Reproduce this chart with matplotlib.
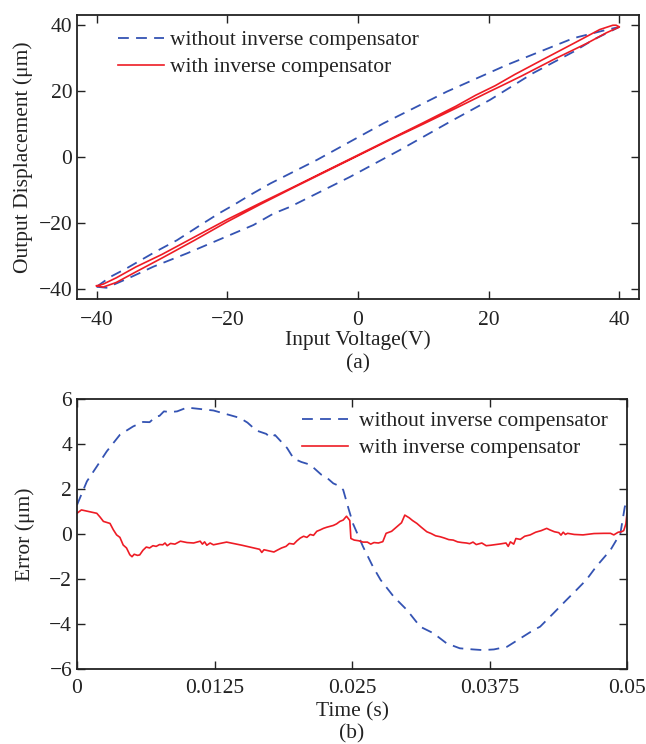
import matplotlib
matplotlib.use("Agg")
import matplotlib.pyplot as plt

plt.rcParams['font.family'] = ['Liberation Serif', 'DejaVu Serif']
plt.rcParams['mathtext.fontset'] = 'stix'

# ---------------- (a) hysteresis loops ----------------
# without inverse compensator: upper branch (x, y)
wo_up_x = [-40, -37.9, -35.4, -31.0, -27.7, -24.1, -21.3, -19.0, -16.5, -13.4, -6.3, 3.9, 13.6, 22.8, 33.0, 38.0, 39.6, 40.0]
wo_up_y = [-39.3, -36.3, -33.7, -28.7, -25.2, -20.6, -17.1, -14.5, -11.5, -8.0, -0.9, 10.2, 19.8, 27.9, 36.0, 38.5, 39.2, 39.4]
# without inverse compensator: lower branch
wo_lo_x = [-40, -38.5, -35.0, -31.3, -26.2, -21.1, -16.0, -12.9, -10.4, -1.2, 6.4, 14.1, 20.2, 26.8, 33.0, 36.0, 40.0]
wo_lo_y = [-39.3, -39.6, -36.6, -33.2, -29.2, -24.9, -20.6, -17.1, -15.1, -6.0, 2.1, 10.7, 17.3, 25.4, 31.9, 35.5, 39.4]
# with inverse compensator: closed loop (rising then falling)
w_x = [-40, -39.0, -37.0, -34.0, -30.0, -25.0, -20.0, -15.0, -10.0, -5.0, 0.0, 5.0, 10.0, 15.0, 20.0, 22.0, 25.0, 30.0, 35.0, 38.0, 40.0,
       39.5, 39.0, 37.0, 33.0, 28.0, 24.0, 21.0, 18.0, 15.0, 10.0, 5.0, 0.0, -5.0, -10.0, -15.0, -20.0, -25.0, -30.0, -34.0, -37.0, -39.0, -40.0]
w_y = [-39.0, -39.4, -38.0, -34.8, -30.6, -25.2, -19.6, -14.4, -9.4, -4.5, 0.4, 5.3, 10.0, 14.8, 19.7, 21.6, 24.5, 29.6, 34.4, 37.6, 39.4,
       39.9, 39.9, 38.6, 34.4, 29.2, 25.0, 21.6, 18.7, 15.4, 10.4, 5.5, 0.6, -4.3, -9.2, -14.0, -18.9, -24.2, -29.5, -33.3, -36.6, -38.5, -39.0]
a_ticks = [-40, -20, 0, 20, 40]

# ---------------- (b) error vs time ----------------
err_wo_t = [0, 0.0009, 0.0018, 0.0027, 0.0039, 0.0051, 0.0060, 0.0066, 0.0072, 0.0075, 0.0079, 0.0085, 0.0091, 0.0100,
            0.0124, 0.0148, 0.0155, 0.0163, 0.0172, 0.0176, 0.0180, 0.0191, 0.0197, 0.0204, 0.0212, 0.0222, 0.0226,
            0.0233, 0.0239, 0.0242, 0.0247, 0.0251, 0.0260, 0.0269, 0.0276, 0.0288, 0.0300, 0.0312, 0.0324, 0.0336,
            0.0348, 0.0360, 0.0369, 0.0379, 0.0391, 0.0403, 0.0415, 0.0421, 0.0433, 0.0445, 0.0454, 0.0463, 0.0472,
            0.0485, 0.0494, 0.0498, 0.0500]
err_wo = [1.29, 2.34, 3.0, 3.67, 4.41, 4.78, 4.98, 4.97, 5.23, 5.25, 5.45, 5.42, 5.45, 5.62,
          5.49, 5.16, 4.95, 4.60, 4.45, 4.28, 4.40, 3.82, 3.35, 3.20, 3.08, 2.64, 2.55,
          2.25, 2.12, 1.96, 1.10, 0.45, -0.56, -1.45, -2.04, -2.79, -3.38, -4.12, -4.41, -4.86,
          -5.08, -5.13, -5.16, -5.13, -5.01, -4.64, -4.27, -4.12, -3.53, -2.93, -2.49, -2.04, -1.45,
          -0.71, 0.03, 1.21, 1.40]

err_w_t = [0.0000, 0.0004, 0.0018, 0.0021, 0.0024, 0.0030, 0.0033, 0.0036, 0.0039, 0.0042, 0.0045, 0.0048, 0.0050,
           0.0052, 0.0055, 0.0057, 0.0060, 0.0063, 0.0066, 0.0069, 0.0072, 0.0075, 0.0078, 0.0080, 0.0082, 0.0085,
           0.0089, 0.0094, 0.0100, 0.0106, 0.0112, 0.0114, 0.0116, 0.0118, 0.0121, 0.0124, 0.0130, 0.0136, 0.0150,
           0.0166, 0.0168, 0.0170, 0.0179, 0.0182, 0.0186, 0.0190, 0.0193, 0.0197, 0.0200, 0.0203, 0.0206, 0.0209,
           0.0212, 0.0215, 0.0218, 0.0221, 0.0224, 0.0227, 0.0230, 0.0233, 0.0236, 0.0239, 0.0242, 0.0245, 0.0248,
           0.0249, 0.0252, 0.0256, 0.0260, 0.0264, 0.0267, 0.0270, 0.0274, 0.0278, 0.0281, 0.0286, 0.0291, 0.0295,
           0.0298, 0.0302, 0.0305, 0.0309, 0.0313, 0.0318, 0.0322, 0.0326, 0.0330, 0.0334, 0.0338, 0.0342, 0.0346,
           0.0350, 0.0354, 0.0357, 0.0360, 0.0363, 0.0368, 0.0372, 0.0376, 0.0385, 0.0390, 0.0392, 0.0394, 0.0397,
           0.0399, 0.0403, 0.0407, 0.0412, 0.0417, 0.0422, 0.0427, 0.0430, 0.0434, 0.0438, 0.0440, 0.0442, 0.0444,
           0.0446, 0.0452, 0.0460, 0.0470, 0.0479, 0.0485, 0.0488, 0.0492, 0.0495, 0.0497, 0.0499, 0.0500]
err_w = [0.92, 1.07, 0.92, 0.75, 0.56, 0.47, 0.19, -0.04, -0.15, -0.49, -0.62, -0.92, -1.01,
         -0.90, -0.95, -0.93, -0.72, -0.58, -0.62, -0.52, -0.55, -0.47, -0.48, -0.40, -0.52, -0.42,
         -0.45, -0.32, -0.38, -0.40, -0.32, -0.45, -0.35, -0.50, -0.40, -0.48, -0.42, -0.36, -0.50,
         -0.68, -0.82, -0.70, -0.80, -0.72, -0.62, -0.55, -0.42, -0.45, -0.30, -0.18, -0.10, -0.15,
         -0.02, -0.06, 0.12, 0.18, 0.25, 0.30, 0.34, 0.38, 0.45, 0.56, 0.62, 0.79, 0.60,
         -0.20, -0.27, -0.30, -0.36, -0.36, -0.45, -0.38, -0.40, -0.34, 0.03, 0.12, 0.33, 0.50,
         0.84, 0.72, 0.60, 0.47, 0.30, 0.10, 0.02, -0.08, -0.12, -0.18, -0.25, -0.27, -0.35,
         -0.38, -0.40, -0.43, -0.36, -0.47, -0.40, -0.52, -0.50, -0.44, -0.40, -0.55, -0.35, -0.45,
         -0.20, -0.24, -0.10, -0.04, 0.08, 0.15, 0.25, 0.18, 0.10, 0.06, -0.05, 0.08, -0.02,
         0.03, -0.02, -0.04, 0.02, 0.03, 0.03, -0.04, 0.08, 0.10, 0.15, 0.45, 0.92]
b_xticks = [0, 0.0125, 0.025, 0.0375, 0.05]
b_xlabels = ['0', '0.0125', '0.025', '0.0375', '0.05']
b_yticks = [-6, -4, -2, 0, 2, 4, 6]

label_wo = 'without inverse compensator'
label_w = 'with inverse compensator'

BLUE = '#3453b3'
RED = '#ee1c25'
TXT = '#222222'
FS = 15.5

fig = plt.figure(figsize=(6.46, 7.44), dpi=100)
ax1 = fig.add_axes([77/646, 1-299/744, 562/646, 284/744])
ax2 = fig.add_axes([77/646, 1-669/744, 550/646, 270/744])

for ax in (ax1, ax2):
    ax.tick_params(direction='in', top=True, right=True, length=6, width=1.0,
                   labelsize=FS, labelcolor=TXT, pad=3.5, color='#222222')
    for s in ax.spines.values():
        s.set_linewidth(1.3)
        s.set_color('#222222')
ax1.tick_params(axis='x', pad=8.5)
ax2.tick_params(axis='x', pad=7.1)

# (a)
ax1.plot(wo_up_x, wo_up_y, color=BLUE, lw=1.3, dashes=(6, 4), label=label_wo)
ax1.plot(wo_lo_x, wo_lo_y, color=BLUE, lw=1.3, dashes=(6, 4))
ax1.plot(w_x, w_y, color=RED, lw=1.2, label=label_w)
ax1.set_xlim(-43, 43)
ax1.set_ylim(-43, 43)
ax1.set_xticks(a_ticks)
ax1.set_yticks(a_ticks)
ax1.set_xlabel('Input Voltage(V)', fontsize=FS, color=TXT, labelpad=0.3)
ax1.set_ylabel('Output Displacement (μm)', fontsize=FS, color=TXT)
ax1.yaxis.set_label_coords((23-77)/562, 0.5)
ax1.yaxis.label.set_va('center')
leg1 = ax1.legend(loc='upper left', bbox_to_anchor=(41/562, 1-15/284), frameon=False, fontsize=FS,
                  borderpad=0, borderaxespad=0, handlelength=2.15, handletextpad=0.25, labelspacing=0.34)
for t in leg1.get_texts():
    t.set_color(TXT)

# (b)
ax2.plot(err_wo_t, err_wo, color=BLUE, lw=1.3, dashes=(6, 4), label=label_wo)
ax2.plot(err_w_t, err_w, color=RED, lw=1.2, label=label_w)
ax2.set_xlim(0, 0.05)
ax2.set_ylim(-6, 6)
ax2.set_xticks(b_xticks)
ax2.set_xticklabels(b_xlabels)
ax2.set_yticks(b_yticks)
ax2.set_xlabel('Time (s)', fontsize=FS, color=TXT, labelpad=3)
ax2.set_ylabel('Error (μm)', fontsize=FS, color=TXT)
ax2.yaxis.set_label_coords((25-77)/550, 0.5)
ax2.yaxis.label.set_va('center')
leg2 = ax2.legend(loc='upper left', bbox_to_anchor=(225/550, 1-12/270), frameon=False, fontsize=FS,
                  borderpad=0, borderaxespad=0, handlelength=2.15, handletextpad=0.5, labelspacing=0.34)
for t in leg2.get_texts():
    t.set_color(TXT)

fig.text(358/646, 1-364/744, '(a)', ha='center', va='center', fontsize=FS, color=TXT)
fig.text(352/646, 1-734/744, '(b)', ha='center', va='center', fontsize=FS, color=TXT)

fig.savefig('out.png', dpi=100)
